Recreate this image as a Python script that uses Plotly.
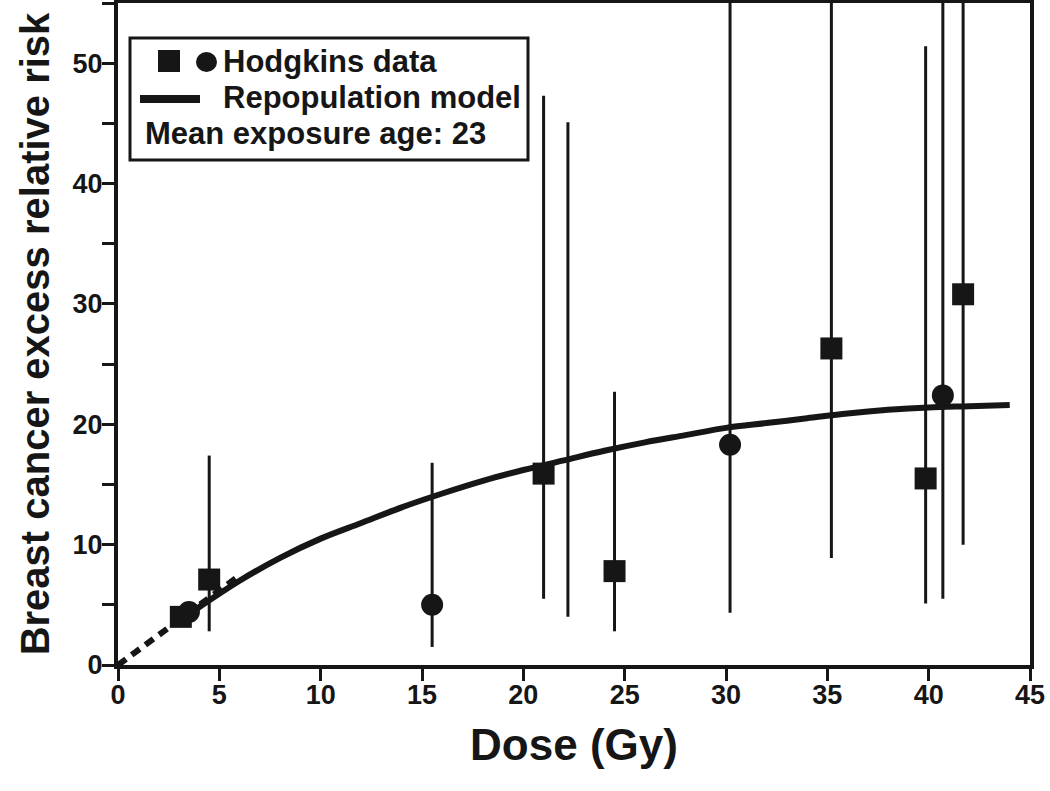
import plotly.graph_objects as go

# Hodgkins data
square_dose = [3.1, 4.5, 21.0, 24.5, 35.2, 39.85, 41.7]
square_risk = [4.0, 7.1, 15.9, 7.8, 26.3, 15.5, 30.8]

circle_dose = [3.5, 15.5, 30.2, 40.7]
circle_risk = [4.4, 5.0, 18.3, 22.4]

# error bars (confidence intervals); 60 = runs off the top of the plot
bar_dose = [4.5, 15.5, 21.0, 22.2, 24.5, 30.2, 35.2, 39.85, 40.7, 41.7]
bar_low = [2.8, 1.5, 5.5, 4.0, 2.8, 4.35, 8.9, 5.1, 5.5, 10.0]
bar_high = [17.4, 16.8, 47.3, 45.1, 22.7, 60, 60, 51.4, 60, 60]

# repopulation model curve
model_dose = [2.8, 4, 6, 8, 10, 12, 14, 16, 18, 20, 22, 24, 26, 28, 30,
              32, 34, 36, 38, 40, 42, 44]
model_risk = [3.4, 4.8, 7.0, 8.9, 10.5, 11.8, 13.1, 14.25, 15.3, 16.2, 17.0,
              17.8, 18.5, 19.1, 19.7, 20.1, 20.5, 20.9, 21.2, 21.4, 21.5, 21.6]

# low dose extrapolation (dashed)
low_dose = [0, 5.8]
low_risk = [0, 7.2]

INK = "#161616"
FONT = "Liberation Sans"

fig = go.Figure()

err_x, err_y = [], []
for d, lo, hi in zip(bar_dose, bar_low, bar_high):
    err_x += [d, d, None]
    err_y += [lo, hi, None]

fig.add_trace(go.Scatter(
    x=err_x, y=err_y, mode="lines",
    line=dict(color=INK, width=3),
    showlegend=False, hoverinfo="skip",
))

fig.add_trace(go.Scatter(
    x=low_dose, y=low_risk, mode="lines",
    line=dict(color=INK, width=6, dash="10px,7px"),
    showlegend=False,
))

fig.add_trace(go.Scatter(
    x=model_dose, y=model_risk, mode="lines",
    line=dict(color=INK, width=6, shape="spline"),
    name="Repopulation model", showlegend=False,
))

fig.add_trace(go.Scatter(
    x=square_dose, y=square_risk, mode="markers",
    marker=dict(symbol="square", size=22, color=INK),
    name="Hodgkins data", showlegend=False,
))

fig.add_trace(go.Scatter(
    x=circle_dose, y=circle_risk, mode="markers",
    marker=dict(symbol="circle", size=22, color=INK),
    name="Hodgkins data", showlegend=False,
))

# hand-drawn legend box (two marker kinds on one row)
px_w, px_h, left, bottom = 912, 662, 118, 665


def px(x):
    return (x - left) / px_w


def py(y):
    return (bottom - y) / px_h


shapes = [
    dict(type="rect", xref="paper", yref="paper",
         x0=px(130), x1=px(528), y0=py(160), y1=py(38),
         line=dict(color=INK, width=3), fillcolor="white"),
    dict(type="rect", xref="paper", yref="paper",
         x0=px(158), x1=px(180), y0=py(72), y1=py(50),
         line=dict(width=0), fillcolor=INK),
    dict(type="circle", xref="paper", yref="paper",
         x0=px(196), x1=px(217), y0=py(72), y1=py(52),
         line=dict(width=0), fillcolor=INK),
    dict(type="line", xref="paper", yref="paper",
         x0=px(140), x1=px(200), y0=py(99), y1=py(99),
         line=dict(color=INK, width=8)),
]

legend_font = dict(family=FONT, size=31, color=INK, weight="bold")
annotations = [
    dict(text="Hodgkins data", x=px(221), y=py(62)),
    dict(text="Repopulation model", x=px(221), y=py(98)),
    dict(text="Mean exposure age: 23", x=px(143), y=py(134)),
]
for a in annotations:
    a.update(xref="paper", yref="paper", xanchor="left", yanchor="middle",
             showarrow=False, font=legend_font)

fig.update_layout(
    width=1050, height=791,
    margin=dict(l=118, r=20, t=3, b=126),
    plot_bgcolor="white", paper_bgcolor="white",
    shapes=shapes, annotations=annotations,
    font=dict(family=FONT, color=INK, weight="bold"),
)

fig.update_xaxes(
    range=[0, 45], dtick=5, tick0=0, automargin=False,
    showgrid=False, zeroline=False,
    showline=True, linewidth=4, linecolor=INK, mirror=True,
    ticks="outside", ticklen=12, tickwidth=3, tickcolor=INK,
    ticklabelstandoff=-9,
    tickfont=dict(size=27, family=FONT, weight="bold"),
    title=dict(text="Dose (Gy)", font=dict(size=44, family=FONT, weight="bold"),
               standoff=21),
)

fig.update_yaxes(
    range=[0, 55], dtick=10, tick0=0, automargin=False,
    showgrid=False, zeroline=False,
    showline=True, linewidth=4, linecolor=INK, mirror=True,
    ticks="outside", ticklen=12, tickwidth=3, tickcolor=INK,
    minor=dict(dtick=5, ticks="outside", ticklen=12, tickwidth=3, tickcolor=INK, showgrid=False),
    ticklabelstandoff=-6,
    tickfont=dict(size=27, family=FONT, weight="bold"),
    title=dict(text="Breast cancer excess relative risk",
               font=dict(size=40, family=FONT, weight="bold"), standoff=12),
)

# the page's default body margin would shift the figure by 8px
fig.write_html("out.html", config={"displayModeBar": False},
               post_script="document.body.style.margin='0';")
